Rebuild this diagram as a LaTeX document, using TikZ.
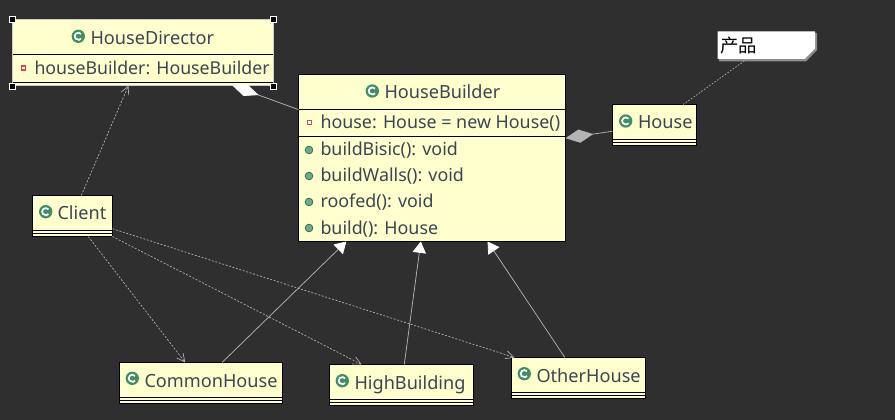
\documentclass[tikz,border=0pt]{standalone}
\usepackage{fontspec}
\setmainfont{Noto Sans}
\newfontfamily\cjkfont{Noto Sans CJK SC}
\usetikzlibrary{arrows.meta,fit,calc}
\definecolor{canvas}{HTML}{2F2F2F}
\definecolor{classfill}{HTML}{FFFFCE}
\definecolor{inktext}{HTML}{3A4654}
\definecolor{icongreen}{HTML}{3E8E66}
\definecolor{edgegray}{HTML}{B4B4B4}
\definecolor{notegray}{HTML}{8C8C8C}
\definecolor{privred}{HTML}{E04060}
\tikzset{
  x=0.75pt,y=-0.75pt,
  classbox/.style={rectangle,draw=black,fill=classfill,line width=0.75pt,inner sep=0pt,outer sep=0pt},
  selbox/.style={classbox,draw=white!80!black},
  txt/.style={anchor=base west,inner sep=0pt,outer sep=0pt,text=inktext,font=\fontsize{13.6}{16}\selectfont},
  membertxt/.style={txt,font=\fontsize{13.4}{16}\selectfont},
  divider/.style={draw=black,line width=0.75pt},
  dep/.style={draw=edgegray,line width=0.5pt,dash pattern=on 1.5pt off 1.2pt,-{Straight Barb[length=6pt,width=6pt,line width=0.5pt]}},
  inherit/.style={draw=edgegray,line width=0.55pt,-{Triangle[fill=white,color=white,length=8.5pt,width=10pt]}},
  whitediamond/.style={draw=edgegray,line width=0.55pt,{Diamond[fill=white,color=white,length=21pt,width=9pt]}-},
  graydiamond/.style={draw=edgegray,line width=0.55pt,{Diamond[fill=edgegray,color=edgegray,length=21pt,width=10pt]}-},
  notelink/.style={draw=edgegray,line width=0.5pt,dash pattern=on 1.2pt off 1.2pt},
  handle/.style={fill=black,draw=white,line width=0.5pt},
}
\newcommand{\umlbox}[6][classbox]{\node[#1,fit={(#3,#4) (#5,#6)}] (#2) {};}
\newcommand{\classicon}[2]{%
  \fill[icongreen] (#1,#2) circle[radius=5pt];
  \draw[white,line width=1.3pt] ([shift={(40:2.7pt)}]#1,#2) arc[start angle=40,end angle=320,radius=2.7pt];
}
\newcommand{\privmark}[2]{%
  \fill[privred] ($(#1,#2)+(-2.8,-2.8)$) rectangle ++(5.6,5.6);
  \fill[white] ($(#1,#2)+(-1.2,-1.2)$) rectangle ++(2.4,2.4);
}
\newcommand{\pubmark}[2]{\filldraw[fill=icongreen!75!white,draw=icongreen!70!black,line width=0.5pt] (#1,#2) circle[radius=2.9pt];}
\newcommand{\handlemark}[2]{\filldraw[handle] ($(#1,#2)+(-3,-3)$) rectangle ++(6,6);}
\begin{document}
\begin{tikzpicture}
\useasboundingbox (0,0) rectangle (895,420);
\fill[canvas] (0,0) rectangle (895,420);

% class boxes
\umlbox[selbox]{director}{12}{20}{273}{85.5}
\umlbox{builder}{298.5}{74.5}{565.5}{241.5}
\umlbox{house}{612.5}{104.5}{696.5}{145.5}
\umlbox{client}{32.5}{195.5}{112.5}{236.5}
\umlbox{common}{119.5}{362.5}{282.5}{403.5}
\umlbox{high}{329.5}{364.5}{473.5}{405.5}
\umlbox{other}{511.5}{357.5}{645.5}{398.5}

% compartments
\draw[divider] (12.5,55) -- (272.5,55);
\draw[divider] (12.5,82.3) -- (272.5,82.3);
\draw[divider] (298.5,109.5) -- (565.5,109.5);
\draw[divider] (298.5,136.5) -- (565.5,136.5);
\draw[divider] (612.5,139.5) -- (696.5,139.5);
\draw[divider] (612.5,142.5) -- (696.5,142.5);
\draw[divider] (32.5,230.5) -- (112.5,230.5);
\draw[divider] (32.5,233.5) -- (112.5,233.5);
\draw[divider] (119.5,397.5) -- (282.5,397.5);
\draw[divider] (119.5,400.5) -- (282.5,400.5);
\draw[divider] (329.5,399.5) -- (473.5,399.5);
\draw[divider] (329.5,402.5) -- (473.5,402.5);
\draw[divider] (511.5,392.5) -- (645.5,392.5);
\draw[divider] (511.5,395.5) -- (645.5,395.5);

% selection handles
\handlemark{12}{19.7}
\handlemark{273}{19.7}
\handlemark{12}{86}
\handlemark{273}{86}

% class icons and names
\classicon{78.3}{36.3}
\node[txt] (t1) at (90.5,45) {HouseDirector};
\classicon{372.3}{91}
\node[txt] (t2) at (384.5,99) {HouseBuilder};
\classicon{625.7}{121}
\node[txt] (t3) at (638,129) {House};
\classicon{45.7}{211.7}
\node[txt] (t4) at (57.5,220) {Client};
\classicon{132.3}{378.3}
\node[txt] (t5) at (144.5,387) {CommonHouse};
\classicon{342.3}{380.7}
\node[txt] (t6) at (354.5,389) {HighBuilding};
\classicon{524.3}{373.7}
\node[txt] (t7) at (536.5,382) {OtherHouse};

% members
\privmark{23.3}{68}
\node[membertxt,font=\fontsize{13.3}{16}\selectfont] (m1) at (34.5,75) {houseBuilder: HouseBuilder};
\privmark{309.5}{122.5}
\node[membertxt] (m2) at (320.5,129) {house: House = new House()};
\pubmark{309}{150}
\node[membertxt] (m3) at (320.5,156) {buildBisic(): void};
\pubmark{309}{176}
\node[membertxt] (m4) at (320.5,182) {buildWalls(): void};
\pubmark{309}{202}
\node[membertxt] (m5) at (320.5,208) {roofed(): void};
\pubmark{309}{228}
\node[membertxt] (m6) at (320.5,234) {build(): House};

% note
\fill[notegray] (719,33) -- (817,33) -- (817,50) -- (806,61.5) -- (719,61.5) -- cycle;
\fill[white] (717.5,31.5) -- (815,31.5) -- (815,48.5) -- (804.5,59) -- (717.5,59) -- cycle;
\node[anchor=base west,inner sep=0pt,outer sep=0pt,font=\cjkfont\fontsize{13.8}{16}\selectfont,text=black] (notelabel) at (720.5,53) {产品};
\node[inner sep=0pt,outer sep=0pt,fit={(717.5,31.5) (815,59)}] (note) {};

% connectors
\draw[dep] (client) -- (director);
\draw[dep] (client) -- (common);
\draw[dep] (client) -- (high);
\draw[dep] (client) -- (other);
\draw[inherit] (common) -- (builder);
\draw[inherit] (high) -- (builder);
\draw[inherit] (other) -- (builder);
\draw[whitediamond] (director) -- (builder);
\draw[graydiamond] (builder) -- (house);
\draw[notelink] (note) -- (house);
\end{tikzpicture}
\end{document}
